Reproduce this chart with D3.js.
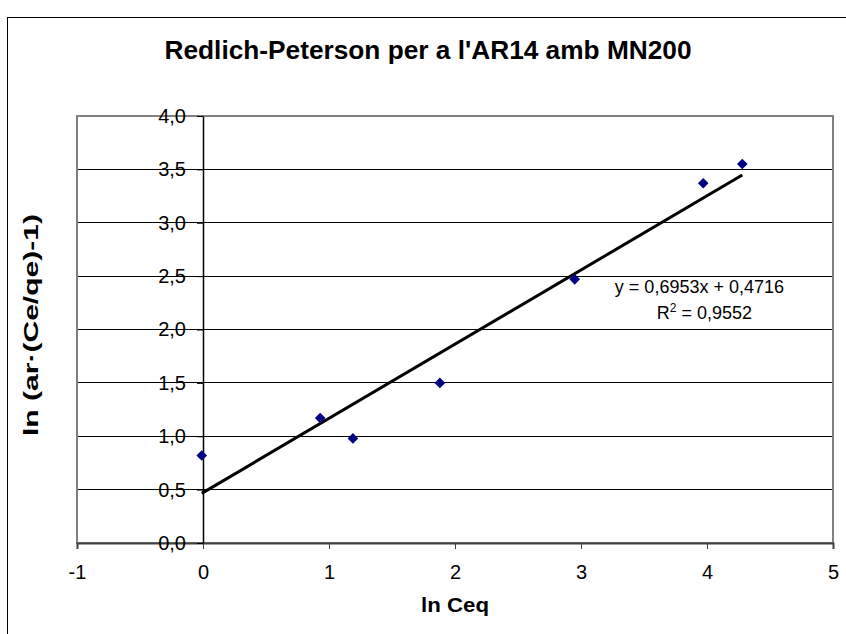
<!DOCTYPE html>
<html><head><meta charset="utf-8">
<script src="https://cdn.jsdelivr.net/npm/d3@7"></script>
<style>body{margin:0;background:#fff}svg{display:block}text{font-family:"Liberation Sans",Arial,sans-serif}</style>
</head><body>
<script>
const title = "Redlich-Peterson per a l'AR14 amb MN200";
const xLabel = "ln Ceq";
const yLabel = "ln (ar·(Ce/qe)-1)";
const xValues = [-0.01, 0.93, 1.19, 1.88, 2.95, 3.97, 4.28];
const yValues = [0.82, 1.17, 0.98, 1.50, 2.47, 3.37, 3.55];
const slope = 0.6953, intercept = 0.4716;
const xTicks = [-1, 0, 1, 2, 3, 4, 5];
const yTicks = [0, 0.5, 1, 1.5, 2, 2.5, 3, 3.5, 4];
const eqText = "y = 0,6953x + 0,4716";
const r2Value = "0,9552";

const W = 846, H = 634;
const svg = d3.select("body").append("svg").attr("width", W).attr("height", H);

// outer chart border
svg.append("rect").attr("x", 7.5).attr("y", 17.5).attr("width", W).attr("height", H)
  .attr("fill", "none").attr("stroke", "#000").attr("stroke-width", 1);

const pLeft = 77, pRight = 833, pTop = 116, pBottom = 543;
const x = d3.scaleLinear().domain([-1, 5]).range([pLeft, pRight]);
const y = d3.scaleLinear().domain([0, 4]).range([pBottom, pTop]);

// gridlines
svg.append("g").selectAll("line").data(yTicks.filter(d => d > 0 && d < 4)).join("line")
  .attr("x1", pLeft).attr("x2", pRight).attr("y1", d => y(d)).attr("y2", d => y(d))
  .attr("stroke", "#000").attr("stroke-width", 1).attr("shape-rendering", "crispEdges");

// plot border
svg.append("rect").attr("x", pLeft).attr("y", pTop).attr("width", pRight - pLeft).attr("height", pBottom - pTop)
  .attr("fill", "none").attr("stroke", "#808080").attr("stroke-width", 2).attr("shape-rendering", "crispEdges");

// x axis
const xAxis = d3.axisBottom(x).tickValues(xTicks).tickSize(6).tickFormat(d => String(d));
const gx = svg.append("g").attr("transform", `translate(0,${y(0)})`).call(xAxis);
gx.select(".domain").attr("stroke", "#404040").attr("stroke-width", 2);
gx.selectAll(".tick line").attr("stroke", "#404040");
gx.selectAll(".tick text").attr("font-size", 20).attr("fill", "#000").attr("y", 22)
  .attr("font-family", "Liberation Sans, Arial, sans-serif");

// y axis at x=0
const yAxis = d3.axisLeft(y).tickValues(yTicks).tickSize(6).tickSizeOuter(0)
  .tickFormat(d => d3.format(".1f")(d).replace(".", ","));
const gy = svg.append("g").attr("transform", `translate(${x(0)},0)`).call(yAxis);
gy.select(".domain").attr("stroke", "#000").attr("stroke-width", 1.5);
gy.selectAll(".tick line").attr("stroke", "#000");
gy.selectAll(".tick text").attr("font-size", 20).attr("fill", "#000").attr("x", -17)
  .attr("font-family", "Liberation Sans, Arial, sans-serif");

// trendline
const xmin = d3.min(xValues), xmax = d3.max(xValues);
svg.append("line").attr("x1", x(xmin)).attr("y1", y(slope * xmin + intercept))
  .attr("x2", x(xmax)).attr("y2", y(slope * xmax + intercept))
  .attr("stroke", "#000").attr("stroke-width", 3);

// points
const pts = xValues.map((v, i) => [v, yValues[i]]);
svg.append("g").selectAll("path").data(pts).join("path")
  .attr("d", d3.symbol().type(d3.symbolDiamond2).size(72))
  .attr("transform", d => `translate(${x(d[0])},${y(d[1])})`)
  .attr("fill", "#000080");

// title
svg.append("text").attr("x", 428).attr("y", 59).attr("text-anchor", "middle")
  .attr("font-size", 25).attr("font-weight", "bold")
  .attr("textLength", 527).attr("lengthAdjust", "spacingAndGlyphs").text(title);

// axis labels
svg.append("text").attr("x", x(2)).attr("y", 612).attr("text-anchor", "middle")
  .attr("font-size", 20).attr("font-weight", "bold")
  .attr("textLength", 68).attr("lengthAdjust", "spacingAndGlyphs").text(xLabel);
svg.append("text").attr("transform", `translate(38,${325}) rotate(-90)`)
  .attr("text-anchor", "middle").attr("font-size", 21).attr("font-weight", "bold")
  .attr("textLength", 222).attr("lengthAdjust", "spacingAndGlyphs").text(yLabel);

// equation
svg.append("text").attr("x", 784).attr("y", 293).attr("text-anchor", "end").attr("font-size", 18).text(eqText);
const r2 = svg.append("text").attr("x", 752).attr("y", 319).attr("text-anchor", "end").attr("font-size", 18);
r2.append("tspan").text("R");
r2.append("tspan").attr("font-size", 12).attr("dy", -7).text("2");
r2.append("tspan").attr("dy", 7).text(" = " + r2Value);
</script>
</body></html>
